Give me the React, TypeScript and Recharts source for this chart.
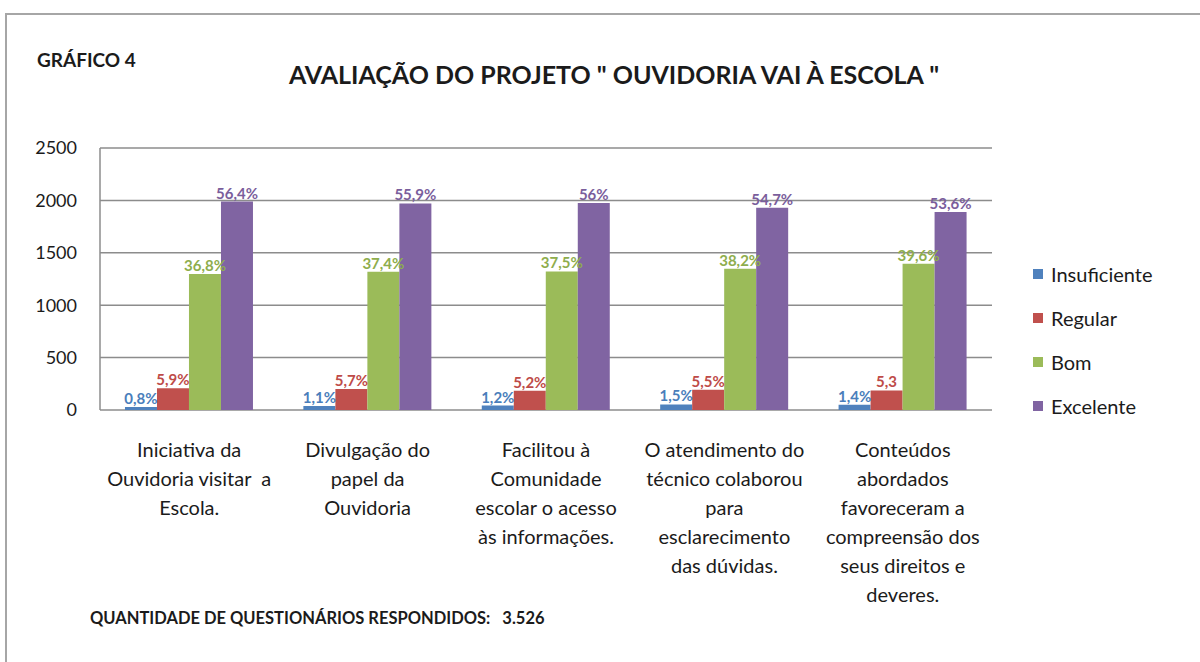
import React from "react";
import { BarChart, Bar, CartesianGrid, XAxis, YAxis, LabelList } from "recharts";

// categorias (eixo X) e suas quebras de linha como no gráfico original
const categories = [
  "Iniciativa da Ouvidoria visitar a Escola.",
  "Divulgação do papel da Ouvidoria",
  "Facilitou à Comunidade escolar o acesso às informações.",
  "O atendimento do técnico colaborou para esclarecimento das dúvidas.",
  "Conteúdos abordados favoreceram a compreensão dos seus direitos e deveres.",
];
const categoryLines = [
  ["Iniciativa da", "Ouvidoria visitar  a", "Escola."],
  ["Divulgação do", "papel da", "Ouvidoria"],
  ["Facilitou à", "Comunidade", "escolar o acesso", "às informações."],
  ["O atendimento do", "técnico colaborou", "para", "esclarecimento", "das dúvidas."],
  ["Conteúdos", "abordados", "favoreceram a", "compreensão dos", "seus direitos e", "deveres."],
];

// quantidades (estimadas a partir da altura das barras / 3.526 respondentes)
const insuficiente = [28, 39, 42, 53, 49];
const regular = [208, 201, 183, 194, 187];
const bom = [1298, 1319, 1322, 1347, 1396];
const excelente = [1989, 1971, 1975, 1929, 1890];

// rótulos de dados
const insuficienteLabels = ["0,8%", "1,1%", "1,2%", "1,5%", "1,4%"];
const regularLabels = ["5,9%", "5,7%", "5,2%", "5,5%", "5,3"];
const bomLabels = ["36,8%", "37,4%", "37,5%", "38,2%", "39,6%"];
const excelenteLabels = ["56,4%", "55,9%", "56%", "54,7%", "53,6%"];

const yTicks = [0, 500, 1000, 1500, 2000, 2500];

const series = [
  { key: "insuficiente", label: "lInsuficiente", name: "Insuficiente", color: "#4F81BD", text: "#4A7EBB" },
  { key: "regular", label: "lRegular", name: "Regular", color: "#C0504D", text: "#BE4B48" },
  { key: "bom", label: "lBom", name: "Bom", color: "#9BBB59", text: "#8EAD4C" },
  { key: "excelente", label: "lExcelente", name: "Excelente", color: "#8064A2", text: "#7A5E9C" },
];

const data = categories.map((c, i) => ({
  name: c,
  insuficiente: insuficiente[i],
  regular: regular[i],
  bom: bom[i],
  excelente: excelente[i],
  lInsuficiente: insuficienteLabels[i],
  lRegular: regularLabels[i],
  lBom: bomLabels[i],
  lExcelente: excelenteLabels[i],
}));

const FONT = "Lato, 'Open Sans', sans-serif";
const TEXT = "#1b1b1b";
const GRID = "#8c8c8c";

function CategoryTick(props: any) {
  const { x, y, payload } = props;
  const idx = categories.indexOf(payload.value);
  const lines = categoryLines[idx] || [payload.value];
  return (
    <text x={x} y={y + 39} textAnchor="middle" fill={TEXT} fontSize={20} fontFamily={FONT}>
      {lines.map((l, i) => (
        <tspan key={i} x={x} dy={i === 0 ? 0 : 29} style={{ whiteSpace: "pre" }}>
          {l}
        </tspan>
      ))}
    </text>
  );
}

export default function App() {
  return (
    <div style={{ position: "absolute", left: 0, top: 0, width: 1200, height: 662, overflow: "hidden", background: "#fff", fontFamily: FONT }}>
      {/* moldura */}
      <div style={{ position: "absolute", left: 5, top: 13, width: 1300, height: 700, borderLeft: "2px solid #a6a6a6", borderTop: "2px solid #a6a6a6" }} />

      <div style={{ position: "absolute", left: 37, top: 48, fontSize: 19, fontWeight: 700, color: TEXT }}>GRÁFICO 4</div>
      <div style={{ position: "absolute", left: 0, width: 1228, top: 59, textAlign: "center", fontSize: 25, fontWeight: 700, color: TEXT, whiteSpace: "pre" }}>
        AVALIAÇÃO DO PROJETO " OUVIDORIA VAI À ESCOLA "
      </div>

      <div style={{ position: "absolute", left: 0, top: 0 }}>
        <BarChart
          width={1200}
          height={662}
          data={data}
          margin={{ top: 148, right: 208, left: 40, bottom: 52 }}
          barCategoryGap="14%"
          barGap={0}
          style={{ fontFamily: FONT }}
        >
          <CartesianGrid horizontal vertical={false} stroke={GRID} strokeWidth={1.5} />
          <XAxis dataKey="name" height={200} tickLine={false} axisLine={false} interval={0} tick={<CategoryTick />} />
          <YAxis
            width={60}
            domain={[0, 2500]}
            ticks={yTicks}
            tickLine={false}
            tickSize={6}
            tickMargin={17}
            axisLine={{ stroke: GRID, strokeWidth: 1.5 }}
            tick={{ fill: TEXT, fontSize: 18, fontFamily: FONT }}
          />
          {series.map((s) => (
            <Bar key={s.key} dataKey={s.key} name={s.name} fill={s.color} isAnimationActive={false}>
              <LabelList dataKey={s.label} position="top" offset={3} fill={s.text} fontSize={15} fontWeight={700} fontFamily={FONT} />
            </Bar>
          ))}
        </BarChart>
      </div>

      {/* legenda */}
      <div style={{ position: "absolute", left: 1033, top: 252 }}>
        {series.map((s) => (
          <div key={s.key} style={{ display: "flex", alignItems: "center", height: 44 }}>
            <span style={{ width: 10, height: 10, background: s.color, display: "inline-block", marginRight: 8 }} />
            <span style={{ fontSize: 20, color: TEXT }}>{s.name}</span>
          </div>
        ))}
      </div>

      <div style={{ position: "absolute", left: 90, top: 608, fontSize: 16.5, fontWeight: 700, color: TEXT, whiteSpace: "pre" }}>
        QUANTIDADE DE QUESTIONÁRIOS RESPONDIDOS:   3.526
      </div>
    </div>
  );
}
